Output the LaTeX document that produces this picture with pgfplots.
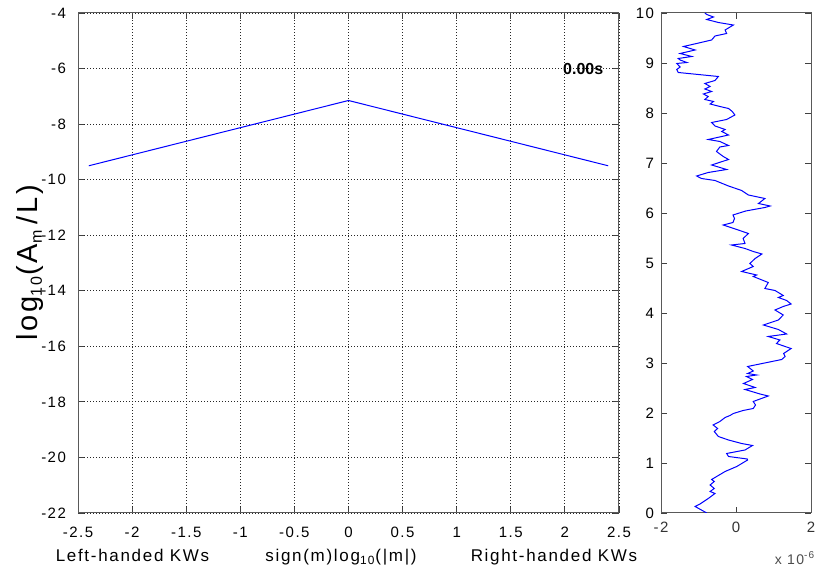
\documentclass[border=0pt]{standalone}
\usepackage{pgfplots}
\pgfplotsset{compat=1.18}
\usepackage{fontspec}
\setmainfont{Liberation Sans}[LetterSpace=10, BoldFeatures={LetterSpace=0}]

\pgfplotsset{
  matlabstyle/.style={
    scale only axis,
    anchor=south west,
    tick align=inside,
    tick pos=both,
    major tick length=3pt,
    axis line style={draw=black!65, line width=0.5pt},
    tick style={draw=black!75, line width=0.4pt},
    tick label style={font=\fontsize{7.5}{8}\selectfont},
  }
}

\begin{document}
\begin{tikzpicture}
\path[use as bounding box] (0pt,0pt) rectangle (408pt,286pt);

% main panel
\begin{axis}[
  matlabstyle,
  at={(39pt,29.5pt)},
  width=270.5pt, height=250pt,
  xmin=-2.5, xmax=2.5, ymin=-22, ymax=-4,
  xtick={-2.5,-2,-1.5,-1,-0.5,0,0.5,1,1.5,2,2.5},
  xticklabels={-2.5,-2,-1.5,-1,-0.5,0,0.5,1,1.5,2,2.5},
  ytick={-22,-20,-18,-16,-14,-12,-10,-8,-6,-4},
  yticklabels={-22,-20,-18,-16,-14,-12,-10,-8,-6,-4},
  xticklabel style={yshift=-3.5pt},
  yticklabel style={xshift=-2.5pt},
  grid=major,
  major grid style={draw=black!85, line width=0.4pt, dash pattern=on 0.5pt off 1pt},
]
\addplot[blue, line width=0.5pt] coordinates {
  (-2.4,-9.5) (0,-7.15) (2.4,-9.5)
};
\node[anchor=east, font=\bfseries\fontsize{8}{9}\selectfont] at (axis cs:2.42,-6) {0.00s};
\end{axis}

% side panel
\begin{axis}[
  matlabstyle,
  at={(330.5pt,29.5pt)},
  width=75pt, height=250pt,
  xmin=-2, xmax=2, ymin=0, ymax=10,
  xtick={-2,0,2}, xticklabels={-2,0,2},
  ytick={0,1,...,10}, yticklabels={0,1,2,3,4,5,6,7,8,9,10},
  xticklabel style={yshift=-1pt, text=black!80},
]
\addplot[blue, line width=0.5pt] coordinates {
  (-0.78,0.00) (-1.09,0.13) (-0.96,0.18) (-0.74,0.29) (-0.56,0.39)
  (-0.69,0.43) (-0.58,0.49) (-0.69,0.56) (-0.58,0.63) (-0.65,0.67)
  (-0.29,0.83) (0.02,0.93) (0.31,1.06) (0.30,1.08) (-0.20,1.13)
  (-0.25,1.19) (0.24,1.26) (0.44,1.35) (0.15,1.39) (-0.20,1.46)
  (-0.47,1.53) (-0.58,1.63) (-0.49,1.69) (-0.61,1.76) (-0.43,1.83)
  (-0.29,1.91) (-0.16,1.95) (-0.07,1.99) (0.19,2.05) (0.46,2.09)
  (0.52,2.16) (0.46,2.23) (0.86,2.34) (0.64,2.38) (0.24,2.47)
  (0.51,2.51) (0.20,2.59) (0.44,2.67) (0.28,2.73) (0.55,2.76)
  (0.31,2.79) (0.46,2.84) (0.31,2.93) (1.22,3.07) (1.31,3.13)
  (1.27,3.19) (1.47,3.29) (1.31,3.33) (1.08,3.39) (1.17,3.46)
  (0.86,3.53) (1.35,3.58) (1.13,3.67) (0.73,3.76) (1.13,3.86)
  (1.26,3.96) (1.04,4.06) (1.26,4.13) (1.47,4.18) (1.35,4.25)
  (1.13,4.31) (1.26,4.35) (1.04,4.45) (0.77,4.49) (0.86,4.61)
  (0.46,4.73) (0.55,4.76) (0.15,4.83) (0.46,4.93) (0.37,4.99)
  (0.51,5.09) (0.69,5.18) (0.46,5.23) (0.24,5.29) (-0.12,5.36)
  (0.24,5.39) (0.19,5.49) (0.33,5.59) (0.02,5.67) (-0.34,5.76)
  (-0.08,5.81) (-0.04,5.89) (-0.08,5.96) (0.26,6.04) (0.77,6.11)
  (0.91,6.14) (0.60,6.19) (0.77,6.29) (0.33,6.36) (0.15,6.45)
  (-0.20,6.54) (-0.56,6.65) (-0.92,6.69) (-1.05,6.74) (-0.74,6.81)
  (-0.25,6.87) (-0.65,6.96) (-0.20,7.07) (-0.34,7.13) (-0.52,7.23)
  (-0.43,7.32) (-0.20,7.35) (-0.43,7.43) (-0.74,7.47) (-0.20,7.56)
  (-0.38,7.63) (-0.29,7.67) (-0.56,7.74) (-0.65,7.81) (-0.25,7.87)
  (-0.03,7.96) (-0.10,8.03) (-0.20,8.09) (-0.43,8.13) (-0.69,8.18)
  (-0.60,8.23) (-0.83,8.27) (-0.74,8.33) (-0.87,8.38) (-0.65,8.43)
  (-0.83,8.48) (-0.69,8.53) (-0.83,8.59) (-0.56,8.65) (-0.47,8.73)
  (-1.54,8.81) (-1.58,8.87) (-1.49,8.92) (-1.58,8.99) (-1.31,9.01)
  (-1.49,9.06) (-1.54,9.09) (-1.18,9.13) (-1.49,9.19) (-1.09,9.26)
  (-1.40,9.33) (-1.05,9.39) (-0.65,9.46) (-0.56,9.54) (-0.25,9.59)
  (-0.29,9.66) (-0.07,9.76) (-0.47,9.81) (-0.78,9.87) (-0.60,9.92)
  (-0.78,9.97) (-0.83,10.00)
};
\end{axis}

% labels
\node[rotate=90, font=\fontsize{14.5}{16}\selectfont] at (15pt,154.5pt)
  {log\textsubscript{\fontsize{8}{9}\selectfont 10}(A\textsubscript{\fontsize{8}{9}\selectfont m}\,/L)};
\node[anchor=base, font=\fontsize{8.5}{10}\selectfont] at (66.25pt,5pt) {Left-handed KWs};
\node[anchor=base, font=\fontsize{8.5}{10}\selectfont] at (170.5pt,5pt)
  {sign(m)log\textsubscript{10}(|m|)};
\node[anchor=base, font=\fontsize{8.5}{10}\selectfont] at (277pt,5pt) {Right-handed KWs};
\node[anchor=base, text=black!70, font=\fontsize{7}{8}\selectfont] at (397.5pt,3.5pt)
  {x 10\textsuperscript{-6}};
\end{tikzpicture}
\end{document}
